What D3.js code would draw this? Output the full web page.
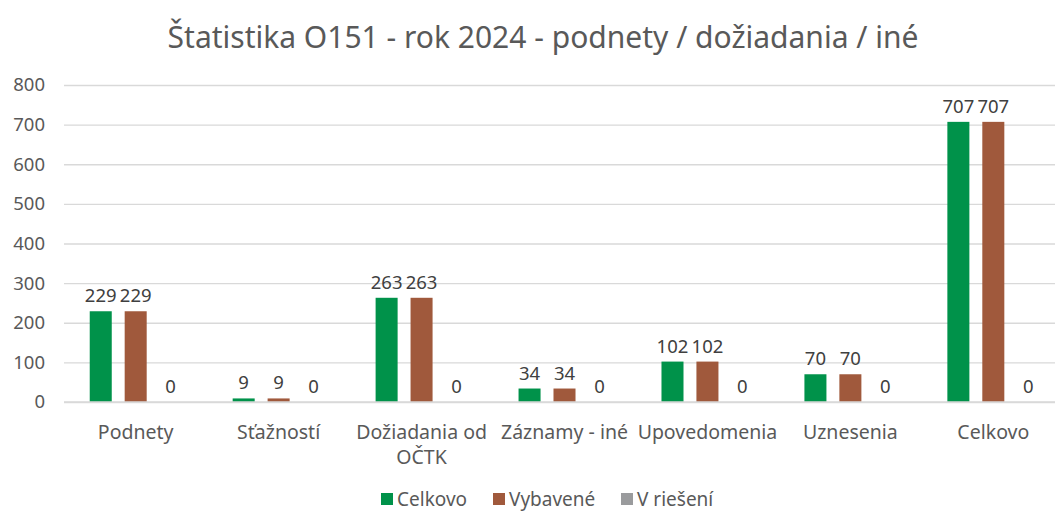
<!DOCTYPE html>
<html>
<head>
<meta charset="utf-8">
<style>
  body { margin: 0; background: #fff; }
  svg { font-family: "Noto Sans", "Open Sans", sans-serif; }
  .grid line { stroke: #d9d9d9; stroke-width: 1.3px; }
  .grid path { display: none; }
</style>
</head>
<body>
<script src="https://cdn.jsdelivr.net/npm/d3@7"></script>
<script>
var categories = ["Podnety", "Sťažností", "Dožiadania od OČTK", "Záznamy - iné", "Upovedomenia", "Uznesenia", "Celkovo"];
var celkovo = [229, 9, 263, 34, 102, 70, 707];
var vybavene = [229, 9, 263, 34, 102, 70, 707];
var vRieseni = [0, 0, 0, 0, 0, 0, 0];
var seriesNames = ["Celkovo", "Vybavené", "V riešení"];
var colors = ["#00924a", "#a0593c", "#9a9b9d"];
var yTicks = [0, 100, 200, 300, 400, 500, 600, 700, 800];

var width = 1055, height = 514;
var plot = {left: 64, right: 1065, top: 85, bottom: 402};

var svg = d3.select("body").append("svg")
    .attr("width", width)
    .attr("height", height);

svg.append("text")
    .attr("x", 543).attr("y", 48)
    .attr("text-anchor", "middle")
    .style("font-size", "30px")
    .style("fill", "#595959")
    .text("Štatistika O151 - rok 2024 - podnety / dožiadania / iné");

var x = d3.scaleBand().domain(categories).range([plot.left, plot.right]).paddingInner(0.357).paddingOuter(0.18);
var xs = d3.scaleBand().domain(seriesNames).range([0, x.bandwidth()]).paddingInner(0.37);
var y = d3.scaleLinear().domain([0, 800]).range([plot.bottom, plot.top]);

// grid
svg.append("g")
    .attr("class", "grid")
    .attr("transform", "translate(" + plot.left + ",0)")
    .call(d3.axisRight(y).tickValues(yTicks).tickSize(plot.right - plot.left).tickFormat(""));

// y labels
svg.append("g")
    .selectAll("text")
    .data(yTicks)
    .join("text")
    .attr("x", 45)
    .attr("y", function(d) { return y(d); })
    .attr("dy", "0.35em")
    .attr("text-anchor", "end")
    .style("font-size", "18.5px")
    .style("fill", "#595959")
    .text(function(d) { return d; });

var table = categories.map(function(c, i) {
  return {cat: c, values: [celkovo[i], vybavene[i], vRieseni[i]]};
});

var groups = svg.append("g").selectAll("g")
    .data(table)
    .join("g")
    .attr("transform", function(d) { return "translate(" + x(d.cat) + ",0)"; });

groups.selectAll("rect")
    .data(function(d) { return d.values.map(function(v, j) { return {s: seriesNames[j], v: v, j: j}; }); })
    .join("rect")
    .attr("x", function(d) { return xs(d.s); })
    .attr("y", function(d) { return y(d.v); })
    .attr("width", xs.bandwidth())
    .attr("height", function(d) { return y(0) - y(d.v); })
    .attr("fill", function(d) { return colors[d.j]; });

groups.selectAll("text.val")
    .data(function(d) { return d.values.map(function(v, j) { return {s: seriesNames[j], v: v}; }); })
    .join("text")
    .attr("class", "val")
    .attr("x", function(d) { return xs(d.s) + xs.bandwidth() / 2; })
    .attr("y", function(d) { return y(d.v) - 9; })
    .attr("text-anchor", "middle")
    .style("font-size", "18.5px")
    .style("fill", "#404040")
    .text(function(d) { return d.v; });

// baseline
svg.append("line")
    .attr("x1", plot.left).attr("x2", plot.right)
    .attr("y1", y(0)).attr("y2", y(0))
    .attr("stroke", "#d9d9d9").attr("stroke-width", 1.5);

// category labels
var catLabels = svg.append("g").selectAll("text")
    .data(categories)
    .join("text")
    .attr("x", function(d) { return x(d) + x.bandwidth() / 2; })
    .attr("y", 439)
    .attr("text-anchor", "middle")
    .style("font-size", "19.5px")
    .style("fill", "#595959");

catLabels.each(function(d) {
  var t = d3.select(this);
  var lines = d === "Dožiadania od OČTK" ? ["Dožiadania od", "OČTK"] : [d];
  lines.forEach(function(l, k) {
    t.append("tspan")
      .attr("x", t.attr("x"))
      .attr("dy", k === 0 ? 0 : "1.3em")
      .text(l);
  });
});

// legend (kept just inside the bottom edge)
var legendX = [381, 493, 621];
var legend = svg.append("g").selectAll("g")
    .data(seriesNames)
    .join("g")
    .attr("transform", function(d, i) { return "translate(" + legendX[i] + ",493)"; });
legend.append("rect")
    .attr("width", 12).attr("height", 12)
    .attr("fill", function(d, i) { return colors[i]; });
legend.append("text")
    .attr("x", 16).attr("y", 13)
    .style("font-size", "19px")
    .style("fill", "#595959")
    .text(function(d) { return d; });
</script>
</body>
</html>
